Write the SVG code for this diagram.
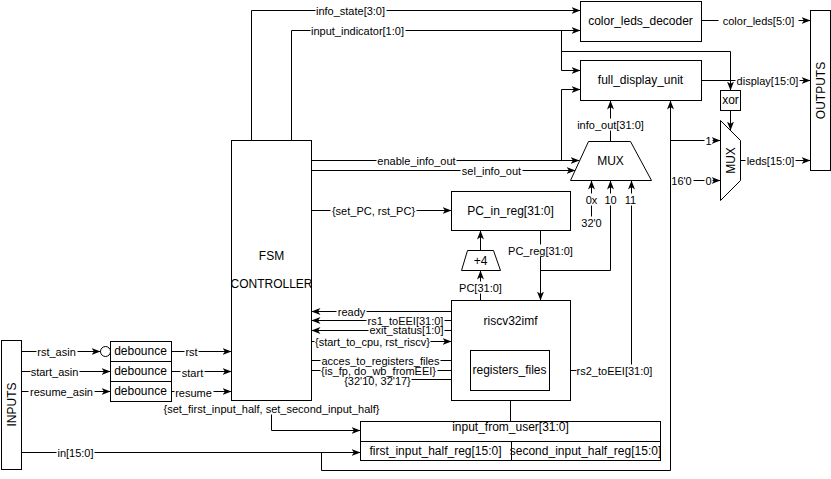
<svg xmlns="http://www.w3.org/2000/svg" width="831" height="479" viewBox="0 0 831 479">
  <style>
    .box { fill: #fff; stroke: #000; stroke-width: 1; }
    .wire { fill: none; stroke: #000; stroke-width: 1; }
    .arr { marker-end: url(#arrow); }
    .gap { fill: #fff; stroke: none; }
    text { font-family: "Liberation Sans", Arial, sans-serif; fill: #000; dominant-baseline: central; text-anchor: middle; }
    .node { font-size: 12px; }
    .lbl { font-size: 11px; }
  </style>
  <defs>
    <marker id="arrow" markerUnits="userSpaceOnUse" viewBox="0 0 9 7" markerWidth="9" markerHeight="7" refX="9" refY="3.5" orient="auto">
      <path d="M0,0 L9,3.5 L0,7 L2.5,3.5 z" fill="#000"/>
    </marker>
  </defs>
  <rect x="0" y="0" width="831" height="479" fill="#fff"/>

  <g transform="translate(0.5,0.5)">
    <g id="connectors">
      <!-- FSM status outputs -->
      <path class="wire arr" d="M251,140 V10 H580"/>
      <path class="wire arr" d="M291,140 V30 H580"/>
      <path class="wire arr" d="M561,30 V70 H580"/>
      <path class="wire arr" d="M561,51 H730 V90"/>
      <path class="wire arr" d="M311,160 H579"/>
      <path class="wire arr" d="M561,160 V89 H580"/>
      <path class="wire arr" d="M311,170 H575"/>
      <path class="wire arr" d="M610,141 V100"/>
      <path class="wire arr" d="M311,210 H451"/>
      <!-- PC datapath -->
      <path class="wire arr" d="M480,250 V230"/>
      <path class="wire arr" d="M480,300 V270"/>
      <path class="wire arr" d="M540,230 V300"/>
      <path class="wire arr" d="M540,270 H610 V180"/>
      <path class="wire arr" d="M591,222 V180"/>
      <path class="wire arr" d="M549,370 H631 V180"/>
      <!-- outputs -->
      <path class="wire arr" d="M701,20 H810"/>
      <path class="wire arr" d="M701,80 H810"/>
      <path class="wire arr" d="M730,110 V130"/>
      <path class="wire arr" d="M740,160 H810"/>
      <path class="wire arr" d="M693,180 H720"/>
      <path class="wire arr" d="M321,452 V470 H670 V100"/>
      <path class="wire arr" d="M670,140 H720"/>
      <!-- inputs -->
      <path class="wire arr" d="M21,452 H360"/>
      <path class="wire arr" d="M21,351 H100"/>
      <circle class="wire" cx="105" cy="351" r="5"/>
      <path class="wire arr" d="M21,371 H110"/>
      <path class="wire arr" d="M21,391 H110"/>
      <path class="wire arr" d="M171,351 H231"/>
      <path class="wire arr" d="M171,371 H231"/>
      <path class="wire arr" d="M171,391 H231"/>
      <!-- FSM <-> core -->
      <path class="wire arr" d="M451,311 H311"/>
      <path class="wire arr" d="M451,320 H311"/>
      <path class="wire arr" d="M451,330 H311"/>
      <path class="wire arr" d="M311,341 H451"/>
      <path class="wire arr" d="M311,360 H470"/>
      <path class="wire arr" d="M311,370 H470"/>
      <path class="wire arr" d="M411,379 H470"/>
      <path class="wire arr" d="M510,421 V390"/>
      <path class="wire arr" d="M271,414 V430 H360"/>

      <!-- wire breaks under edge labels -->
      <rect class="gap" x="315" y="8" width="71" height="4"/>
      <rect class="gap" x="310" y="28" width="95" height="4"/>
      <rect class="gap" x="376" y="158" width="80" height="4"/>
      <rect class="gap" x="460" y="168" width="62" height="4"/>
      <rect class="gap" x="608" y="118" width="4" height="12"/>
      <rect class="gap" x="330" y="208" width="86" height="4"/>
      <rect class="gap" x="478" y="281" width="4" height="12"/>
      <rect class="gap" x="538" y="244" width="4" height="12"/>
      <rect class="gap" x="589" y="193" width="4" height="12"/>
      <rect class="gap" x="608" y="193" width="4" height="12"/>
      <rect class="gap" x="628" y="193" width="4" height="12"/>
      <rect class="gap" x="589" y="216" width="4" height="12"/>
      <rect class="gap" x="576" y="364" width="77" height="12"/>
      <rect class="gap" x="718" y="18" width="80" height="4"/>
      <rect class="gap" x="735" y="78" width="64" height="4"/>
      <rect class="gap" x="745" y="158" width="50" height="4"/>
      <rect class="gap" x="704" y="138" width="8" height="4"/>
      <rect class="gap" x="704" y="178" width="8" height="4"/>
      <rect class="gap" x="56" y="450" width="38" height="4"/>
      <rect class="gap" x="36" y="349" width="41" height="4"/>
      <rect class="gap" x="30" y="369" width="49" height="4"/>
      <rect class="gap" x="28" y="389" width="66" height="4"/>
      <rect class="gap" x="184" y="349" width="14" height="4"/>
      <rect class="gap" x="180" y="369" width="24" height="4"/>
      <rect class="gap" x="174" y="389" width="39" height="4"/>
      <rect class="gap" x="336" y="309" width="30" height="4"/>
      <rect class="gap" x="366" y="318" width="78" height="4"/>
      <rect class="gap" x="368" y="328" width="76" height="4"/>
      <rect class="gap" x="314" y="339" width="116" height="4"/>
      <rect class="gap" x="320" y="358" width="120" height="4"/>
      <rect class="gap" x="320" y="368" width="117" height="4"/>

      <!-- edge labels -->
      <text class="lbl" x="350" y="10">info_state[3:0]</text>
      <text class="lbl" x="357" y="30">input_indicator[1:0]</text>
      <text class="lbl" x="416" y="160">enable_info_out</text>
      <text class="lbl" x="491" y="170">sel_info_out</text>
      <text class="lbl" x="610" y="124">info_out[31:0]</text>
      <text class="lbl" x="373" y="210">{set_PC, rst_PC}</text>
      <text class="lbl" x="480" y="287">PC[31:0]</text>
      <text class="lbl" x="540" y="250">PC_reg[31:0]</text>
      <text class="lbl" x="591" y="222">32'0</text>
      <text class="lbl" x="591" y="199">0x</text>
      <text class="lbl" x="610" y="199">10</text>
      <text class="lbl" x="630" y="199">11</text>
      <text class="lbl" x="614" y="370">rs2_toEEI[31:0]</text>
      <text class="lbl" x="758" y="20">color_leds[5:0]</text>
      <text class="lbl" x="767" y="80">display[15:0]</text>
      <text class="lbl" x="770" y="160">leds[15:0]</text>
      <text class="lbl" x="708" y="140">1</text>
      <text class="lbl" x="708" y="180">0</text>
      <text class="lbl" x="681" y="180">16'0</text>
      <text class="lbl" x="75" y="452">in[15:0]</text>
      <text class="lbl" x="56" y="351">rst_asin</text>
      <text class="lbl" x="54" y="371">start_asin</text>
      <text class="lbl" x="61" y="391">resume_asin</text>
      <text class="lbl" x="191" y="351">rst</text>
      <text class="lbl" x="192" y="372">start</text>
      <text class="lbl" x="193" y="392">resume</text>
      <text class="lbl" x="271" y="408">{set_first_input_half, set_second_input_half}</text>
      <text class="lbl" x="351" y="311">ready</text>
      <text class="lbl" x="405" y="320">rs1_toEEI[31:0]</text>
      <text class="lbl" x="406" y="329">exit_status[1:0]</text>
      <text class="lbl" x="372" y="341">{start_to_cpu, rst_riscv}</text>
      <text class="lbl" x="380" y="360">acces_to_registers_files</text>
      <text class="lbl" x="378" y="370">{is_fp, do_wb_fromEEI}</text>
      <text class="lbl" x="377" y="380">{32'10, 32'17}</text>
    </g>

    <g id="inputs">
      <rect class="box" x="1" y="340" width="20" height="129"/>
      <text class="node" transform="translate(11,404) rotate(-90)">INPUTS</text>
    </g>
    <g id="debounce-rst">
      <rect class="box" x="110" y="341" width="61" height="20"/>
      <text class="node" x="140" y="350">debounce</text>
    </g>
    <g id="debounce-start">
      <rect class="box" x="110" y="361" width="61" height="20"/>
      <text class="node" x="140" y="370">debounce</text>
    </g>
    <g id="debounce-resume">
      <rect class="box" x="110" y="381" width="61" height="20"/>
      <text class="node" x="140" y="390">debounce</text>
    </g>
    <g id="fsm-controller">
      <rect class="box" x="231" y="140" width="80" height="260"/>
      <text class="node" x="271" y="255">FSM</text>
      <text class="node" x="271" y="283">CONTROLLER</text>
    </g>
    <g id="color-leds-decoder">
      <rect class="box" x="580" y="1" width="121" height="40"/>
      <text class="node" x="640" y="20">color_leds_decoder</text>
    </g>
    <g id="full-display-unit">
      <rect class="box" x="580" y="60" width="121" height="40"/>
      <text class="node" x="640" y="79">full_display_unit</text>
    </g>
    <g id="info-mux">
      <polygon class="box" points="588,141 630,141 651,180 570,180"/>
      <text class="node" x="610" y="160">MUX</text>
    </g>
    <g id="pc-in-reg">
      <rect class="box" x="451" y="191" width="119" height="39"/>
      <text class="node" x="510" y="210">PC_in_reg[31:0]</text>
    </g>
    <g id="pc-adder">
      <polygon class="box" points="467,250 493,250 500,270 461,270"/>
      <text class="node" x="480" y="260">+4</text>
    </g>
    <g id="riscv32imf">
      <rect class="box" x="451" y="300" width="119" height="100"/>
      <text class="node" x="510" y="320">riscv32imf</text>
    </g>
    <g id="registers-files">
      <rect class="box" x="470" y="350" width="79" height="40"/>
      <text class="node" x="509" y="369">registers_files</text>
    </g>
    <g id="input-from-user">
      <rect class="box" x="360" y="421" width="300" height="39"/>
      <path class="wire" d="M360,441 H660 M511,441 V460"/>
      <text class="node" x="510" y="426">input_from_user[31:0]</text>
      <text class="node" x="435" y="450">first_input_half_reg[15:0]</text>
      <text class="node" x="585" y="450">second_input_half_reg[15:0]</text>
    </g>
    <g id="xor">
      <rect class="box" x="720" y="90" width="20" height="20"/>
      <text class="node" x="730" y="99">xor</text>
    </g>
    <g id="leds-mux">
      <polygon class="box" points="720,120 740,140 740,180 720,200"/>
      <text class="node" transform="translate(730,160) rotate(-90)">MUX</text>
    </g>
    <g id="outputs">
      <rect class="box" x="810" y="10" width="20" height="160"/>
      <text class="node" transform="translate(820,90) rotate(-90)">OUTPUTS</text>
    </g>
  </g>
</svg>
